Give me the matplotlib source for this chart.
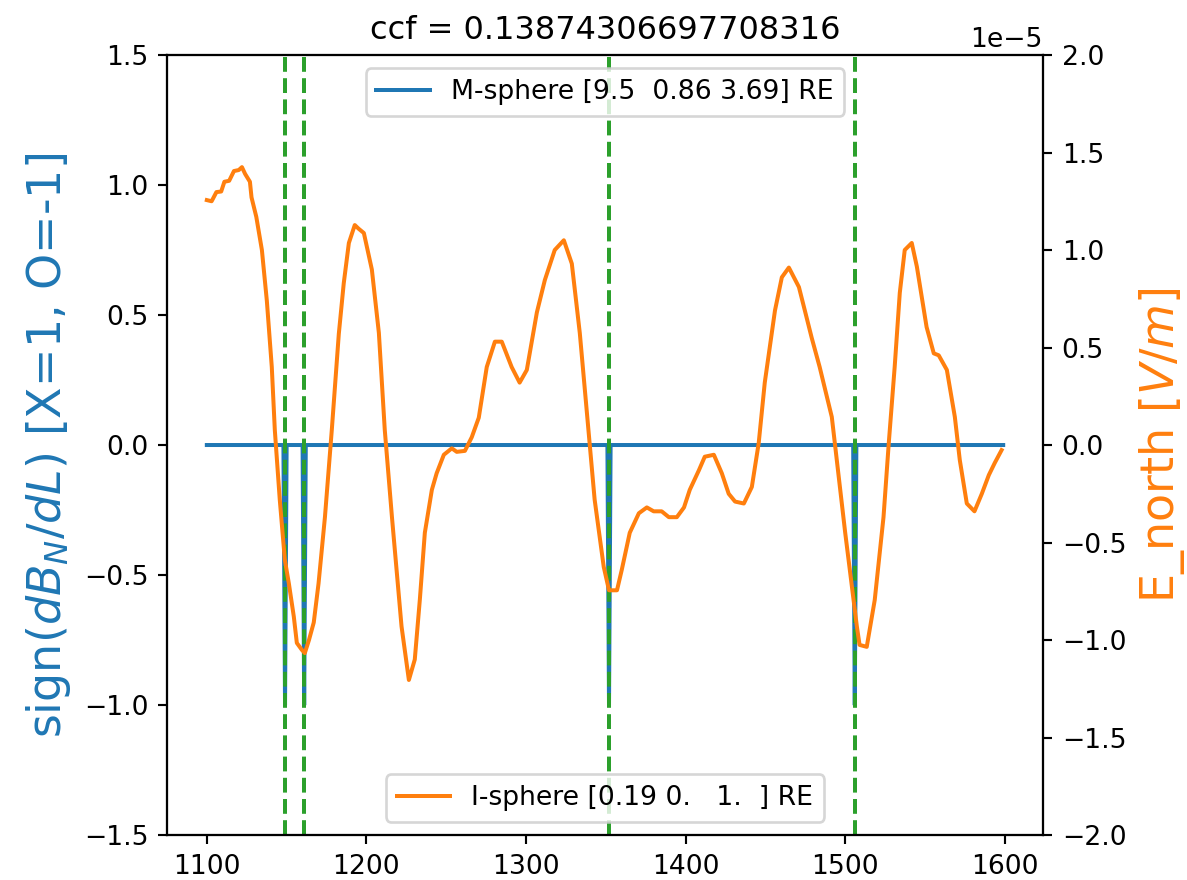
import numpy as np
import matplotlib
matplotlib.use("Agg")
import matplotlib.pyplot as plt

# Time axis of the magnetosphere sign series
t_start = 1100
t_stop = 1600
# Times where sign(dB_N/dL) flips to O (= -1)
event_times = [1149, 1161, 1352, 1506]

# E_north trace (units of 1e-5 V/m)
e_time = [1100, 1103, 1106, 1109, 1111, 1114, 1117, 1120, 1122, 1124, 1127, 1128,
          1131, 1134.5, 1137.6, 1140.7, 1142.6, 1145.7, 1148.9, 1151.4, 1154.5,
          1156.4, 1159.5, 1161.4, 1164, 1167, 1170, 1174, 1178.3, 1182.7, 1185.8,
          1189, 1192.7, 1195, 1198.4, 1203.4, 1207.8, 1211.5, 1216, 1222, 1226.6,
          1230.3, 1233.5, 1236.6, 1241, 1244, 1248.5, 1253.5, 1256.6, 1261.7, 1266,
          1270.4, 1275.4, 1280.5, 1284.8, 1291, 1296, 1300.5, 1306.8, 1311.8, 1318,
          1323.7, 1328.7, 1333.7, 1339.3, 1343, 1348.7, 1352, 1357, 1360, 1365,
          1370.7, 1375.7, 1380, 1385, 1389.5, 1394.5, 1399, 1402.6, 1408.3, 1412,
          1417.7, 1422.7, 1427, 1431, 1436.5, 1441.5, 1445.8, 1449.6, 1456, 1460.3,
          1464.7, 1471, 1474.7, 1479, 1484, 1491.6, 1493.5, 1500, 1507.3, 1509,
          1513.5, 1518.5, 1524, 1527.3, 1531, 1534.2, 1537.3, 1541.7, 1544.9, 1551,
          1555.5, 1558.6, 1563.7, 1568.7, 1571.8, 1576.2, 1581, 1585.6, 1590,
          1593.7, 1598]
e_north_1e5 = [1.256, 1.25, 1.297, 1.30, 1.35, 1.355, 1.405, 1.41, 1.425, 1.39, 1.35,
               1.27, 1.17, 1.0, 0.74, 0.40, 0.077, -0.28, -0.59, -0.71, -0.88, -1.015,
               -1.05, -1.067, -1.0, -0.91, -0.71, -0.37, 0.077, 0.57, 0.83, 1.036,
               1.128, 1.11, 1.087, 0.90, 0.575, 0.077, -0.37, -0.93, -1.205, -1.10,
               -0.79, -0.45, -0.23, -0.145, -0.05, -0.017, -0.035, -0.03, 0.04, 0.14,
               0.40, 0.53, 0.53, 0.40, 0.32, 0.385, 0.68, 0.846, 1.0, 1.05, 0.93,
               0.574, 0.06, -0.28, -0.625, -0.745, -0.745, -0.64, -0.45, -0.35, -0.32,
               -0.34, -0.34, -0.37, -0.37, -0.32, -0.23, -0.13, -0.06, -0.05, -0.145,
               -0.25, -0.29, -0.30, -0.215, 0.01, 0.32, 0.69, 0.86, 0.91, 0.81, 0.69,
               0.55, 0.40, 0.144, 0.01, -0.45, -0.93, -1.025, -1.035, -0.795, -0.37,
               0.01, 0.40, 0.78, 1.0, 1.036, 0.915, 0.605, 0.47, 0.46, 0.385, 0.144,
               -0.077, -0.30, -0.34, -0.25, -0.154, -0.092, -0.026]

ccf = 0.13874306697708316
msphere_label = "M-sphere [9.5  0.86 3.69] RE"
isphere_label = "I-sphere [0.19 0.   1.  ] RE"

# Build sign series: 0 everywhere, -1 at events
t = np.arange(t_start, t_stop)
sign = np.zeros_like(t, dtype=float)
for ev in event_times:
    sign[t == ev] = -1.0

DPI = 192
fig = plt.figure(figsize=(1187 / DPI, 880 / DPI), dpi=DPI)
ax1 = fig.add_axes([0.1407, 0.0511, 0.738, 0.8864])
ax1.plot(t, sign, color="C0", label=msphere_label)
for ev in event_times:
    ax1.axvline(ev, color="C2", linestyle="--")
ax1.set_ylim(-1.5, 1.5)
ax1.set_yticks(np.arange(-1.5, 1.51, 0.5))
ax1.set_ylabel(r"sign($dB_N/dL$) [X=1, O=-1]", color="C0", fontsize="xx-large")
ax1.legend(loc="upper center")

ax2 = ax1.twinx()
ax2.plot(e_time, np.array(e_north_1e5) * 1e-5, color="C1", label=isphere_label)
ax2.set_ylim(-2e-5, 2e-5)
ax2.set_yticks(np.arange(-2e-5, 2.01e-5, 0.5e-5))
ax2.set_ylabel(r"E_north [$V/m$]", color="C1", fontsize="xx-large")
ax2.legend(loc="lower center")

ax1.set_title(f"ccf = {ccf}")

fig.savefig("out.png", dpi=DPI)
